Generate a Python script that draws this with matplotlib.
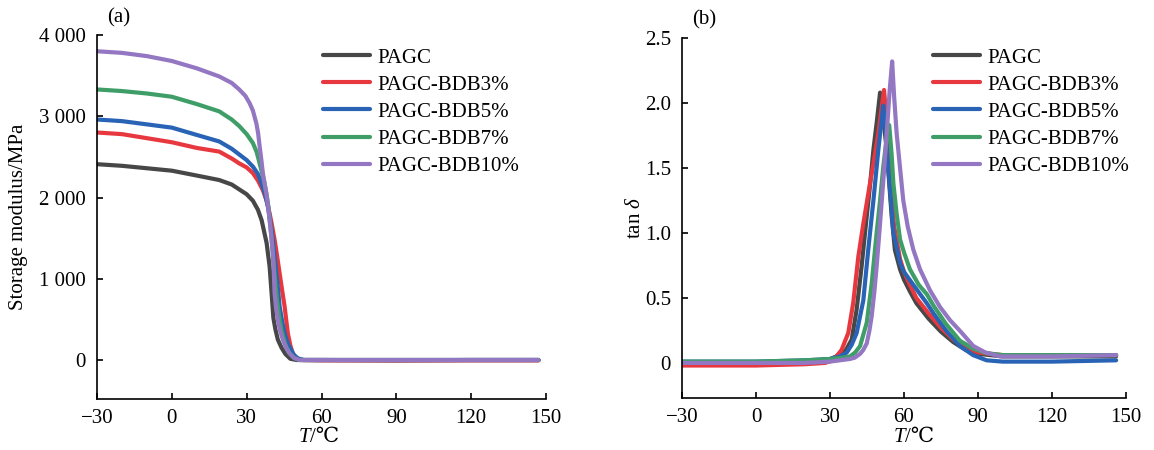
import matplotlib
matplotlib.use('Agg')
import matplotlib.pyplot as plt

plt.rcParams['font.family'] = ['Liberation Serif', 'DejaVu Serif', 'DejaVu Sans']
plt.rcParams['mathtext.fontset'] = 'custom'
plt.rcParams['mathtext.rm'] = 'Liberation Serif'
plt.rcParams['mathtext.it'] = 'Liberation Serif:italic'

labels = ['PAGC', 'PAGC-BDB3%', 'PAGC-BDB5%', 'PAGC-BDB7%', 'PAGC-BDB10%']
colors = ['#474747', '#e8383f', '#2863b5', '#3f9e67', '#9477c3']

# (a) storage modulus, MPa
t_a0 = [-30, -20, -10, 0, 10, 19, 24, 27, 30, 32.5, 34.5, 36, 38, 39.2, 40, 40.7, 41.5, 42.5, 44, 45.5, 47.5, 50, 60, 90, 120, 147]
e_a0 = [2410, 2390, 2360, 2330, 2270, 2215, 2160, 2100, 2040, 1960, 1850, 1720, 1440, 1150, 820, 520, 380, 250, 150, 75, 15, 0, 0, -5, 0, 0]
t_a1 = [-30, -20, -10, 0, 10, 19, 24, 27, 30, 32.5, 34.5, 36.5, 38, 39.2, 40.2, 41.2, 42.2, 43.2, 44.2, 45.2, 46.5, 47.5, 48.5, 50, 52, 60, 90, 120, 147]
e_a1 = [2800, 2780, 2730, 2680, 2610, 2565, 2480, 2420, 2370, 2300, 2210, 2090, 1960, 1805, 1650, 1480, 1280, 1070, 860, 660, 330, 180, 80, 25, 0, -5, -5, -5, -5]
t_a2 = [-30, -20, -10, 0, 10, 19, 24, 27, 30, 32.5, 34.5, 36, 37.3, 38.5, 39.5, 40.5, 41.2, 41.9, 42.6, 43.2, 44.2, 45.2, 46.5, 47.9, 49, 50.5, 53, 60, 147]
e_a2 = [2960, 2940, 2900, 2860, 2770, 2690, 2600, 2530, 2460, 2380, 2290, 2170, 2050, 1890, 1700, 1480, 1280, 1070, 860, 660, 480, 330, 200, 120, 60, 20, 0, 0, 0]
t_a3 = [-30, -20, -10, 0, 10, 19, 24, 27, 30, 32.5, 34, 35.2, 36.2, 37.2, 38, 38.8, 39.5, 40.3, 41.2, 42, 43, 44, 45.5, 47, 49, 51, 60, 147]
e_a3 = [3330, 3310, 3280, 3240, 3150, 3060, 2960, 2880, 2780, 2670, 2560, 2420, 2300, 2170, 2030, 1870, 1650, 1380, 1060, 780, 540, 360, 190, 90, 25, 0, 0, 0]
t_a4 = [-30, -20, -10, 0, 10, 19, 24, 27, 29.5, 31.2, 32.5, 33.9, 34.6, 35.2, 35.9, 36.5, 37.2, 37.9, 38.6, 39.2, 39.9, 40.5, 40.9, 41.2, 41.8, 42.5, 43.5, 44.5, 46, 47.2, 49, 51.2, 60, 147]
e_a4 = [3800, 3780, 3740, 3680, 3590, 3490, 3410, 3330, 3250, 3160, 3070, 2910, 2790, 2630, 2460, 2300, 2170, 2050, 1890, 1720, 1520, 1310, 1070, 820, 640, 490, 350, 250, 140, 80, 25, 0, 0, 0]

# (b) tan delta
t_b0 = [-30, 0, 20, 30, 34, 36.5, 38.8, 40.8, 42.8, 44.9, 46.3, 47.6, 49, 50.3, 51.5, 53, 55, 56.3, 58.4, 60, 62.4, 65, 70, 75, 80, 85, 90, 100, 120, 146]
d_b0 = [0.0, 0.0, 0.01, 0.03, 0.06, 0.1, 0.18, 0.41, 0.74, 1.13, 1.38, 1.64, 1.86, 2.08, 1.9, 1.64, 1.13, 0.87, 0.72, 0.64, 0.55, 0.46, 0.34, 0.24, 0.16, 0.1, 0.07, 0.05, 0.05, 0.05]
t_b1 = [-30, 0, 20, 28, 31.3, 34.7, 37.4, 39.4, 41.5, 43.5, 46.2, 48, 49.6, 51, 51.9, 52.8, 54, 56, 58.4, 60, 62.4, 65, 70, 75, 80, 85, 90, 100, 120, 146]
d_b1 = [-0.02, -0.02, -0.01, 0.0, 0.02, 0.1, 0.23, 0.46, 0.82, 1.07, 1.38, 1.58, 1.77, 1.97, 2.1, 1.9, 1.5, 1.05, 0.8, 0.7, 0.6, 0.5, 0.38, 0.27, 0.18, 0.12, 0.08, 0.06, 0.06, 0.06]
t_b2 = [-30, 0, 20, 30, 34, 36.8, 38.8, 40.8, 43.5, 45.5, 47.6, 49.6, 50.8, 51.6, 52.5, 53.6, 55.7, 58.4, 60, 63.8, 69.2, 72, 77, 82.7, 88, 93.5, 100, 120, 146]
d_b2 = [0.01, 0.01, 0.02, 0.03, 0.05, 0.08, 0.14, 0.23, 0.48, 0.87, 1.25, 1.64, 1.85, 1.98, 1.8, 1.51, 1.0, 0.77, 0.7, 0.6, 0.46, 0.38, 0.25, 0.13, 0.06, 0.02, 0.01, 0.01, 0.02]
t_b3 = [-30, 0, 20, 30, 35, 38.1, 40.2, 42.2, 44.9, 46.9, 48.9, 50.3, 51.6, 52.8, 54, 55, 55.7, 57, 58.4, 60, 62.4, 66, 69.2, 72, 77, 82.7, 88, 93.5, 100, 120, 146]
d_b3 = [0.01, 0.01, 0.02, 0.03, 0.04, 0.05, 0.08, 0.13, 0.31, 0.61, 1.0, 1.25, 1.51, 1.7, 1.83, 1.6, 1.38, 1.15, 0.95, 0.85, 0.72, 0.6, 0.53, 0.44, 0.3, 0.17, 0.11, 0.075, 0.06, 0.06, 0.06]
t_b4 = [-30, 0, 20, 30, 34, 38, 40, 42.2, 43.5, 44.9, 46, 46.9, 48, 48.9, 50, 51, 52, 53, 54.2, 55.2, 56, 57, 58.4, 59.7, 61.5, 63.8, 66.5, 70.5, 74.6, 78.6, 83, 88.1, 93, 99, 120, 146]
d_b4 = [0.0, 0.0, 0.0, 0.01, 0.02, 0.03, 0.04, 0.07, 0.1, 0.15, 0.25, 0.36, 0.55, 0.74, 1.0, 1.25, 1.5, 1.77, 2.1, 2.32, 2.05, 1.77, 1.5, 1.25, 1.05, 0.87, 0.72, 0.56, 0.43, 0.33, 0.24, 0.13, 0.08, 0.05, 0.05, 0.06]

x_ticks = [-30, 0, 30, 60, 90, 120, 150]
ya_ticks = [0, 1000, 2000, 3000, 4000]
ya_labels = ['0', '1 000', '2 000', '3 000', '4 000']
yb_ticks = [0, 0.5, 1.0, 1.5, 2.0, 2.5]
yb_labels = ['0', '0.5', '1.0', '1.5', '2.0', '2.5']

W, H = 1154, 450
fs = 15
lw = 3.0
fig = plt.figure(figsize=(W / 100, H / 100), dpi=100)


def style(ax):
    for s in ['top', 'right']:
        ax.spines[s].set_visible(False)
    for s in ['left', 'bottom']:
        ax.spines[s].set_linewidth(1.2)
    ax.tick_params(direction='in', length=4, width=1.2, labelsize=fs)
    ax.tick_params(axis='y', pad=8)
    ax.tick_params(axis='x', pad=7)
    ax.set_xlim(-30, 150)
    ax.set_xticks(x_ticks)


def xlabel(xc, yc):
    fig.text(xc / W, 1 - yc / H, 'T', fontsize=fs, style='italic', ha='right', va='center')
    fig.text(xc / W, 1 - yc / H, '/\u2103', fontsize=fs, ha='left', va='center')


ax1 = fig.add_axes([97 / W, 1 - 399 / H, 449 / W, 364 / H])
style(ax1)
for t, e, c, lab in zip([t_a0, t_a1, t_a2, t_a3, t_a4], [e_a0, e_a1, e_a2, e_a3, e_a4], colors, labels):
    ax1.plot(t, e, color=c, lw=lw, label=lab, solid_capstyle='round', solid_joinstyle='round')
ax1.set_ylim(-480, 4000)
ax1.set_yticks(ya_ticks)
ax1.set_yticklabels(ya_labels)
fig.text(19 / W, 1 - 217 / H, 'Storage modulus/MPa', fontsize=fs, rotation=90, ha='center', va='center')
xlabel(310, 437)
fig.text(119 / W, 1 - 18 / H, '(a)', fontsize=fs, ha='center', va='center')
ax1.legend(loc='upper left', bbox_to_anchor=(323 / W, 1 - 48 / H), bbox_transform=fig.transFigure,
           frameon=False, fontsize=fs, handlelength=2.25, handletextpad=0.35, labelspacing=0.36,
           borderpad=0, borderaxespad=0)

ax2 = fig.add_axes([682 / W, 1 - 398 / H, 444 / W, 360 / H])
style(ax2)
for t, d, c, lab in zip([t_b0, t_b1, t_b2, t_b3, t_b4], [d_b0, d_b1, d_b2, d_b3, d_b4], colors, labels):
    ax2.plot(t, d, color=c, lw=lw, label=lab, solid_capstyle='round', solid_joinstyle='round')
ax2.set_ylim(-0.27, 2.5)
ax2.set_yticks(yb_ticks)
ax2.set_yticklabels(yb_labels)
fig.text(636 / W, 1 - 218 / H, r'tan $\delta$', fontsize=fs, rotation=90, ha='center', va='center')
xlabel(905, 437)
fig.text(704 / W, 1 - 20 / H, '(b)', fontsize=fs, ha='center', va='center')
ax2.legend(loc='upper left', bbox_to_anchor=(933 / W, 1 - 48 / H), bbox_transform=fig.transFigure,
           frameon=False, fontsize=fs, handlelength=2.25, handletextpad=0.35, labelspacing=0.36,
           borderpad=0, borderaxespad=0)

fig.savefig('out.png', dpi=100)
